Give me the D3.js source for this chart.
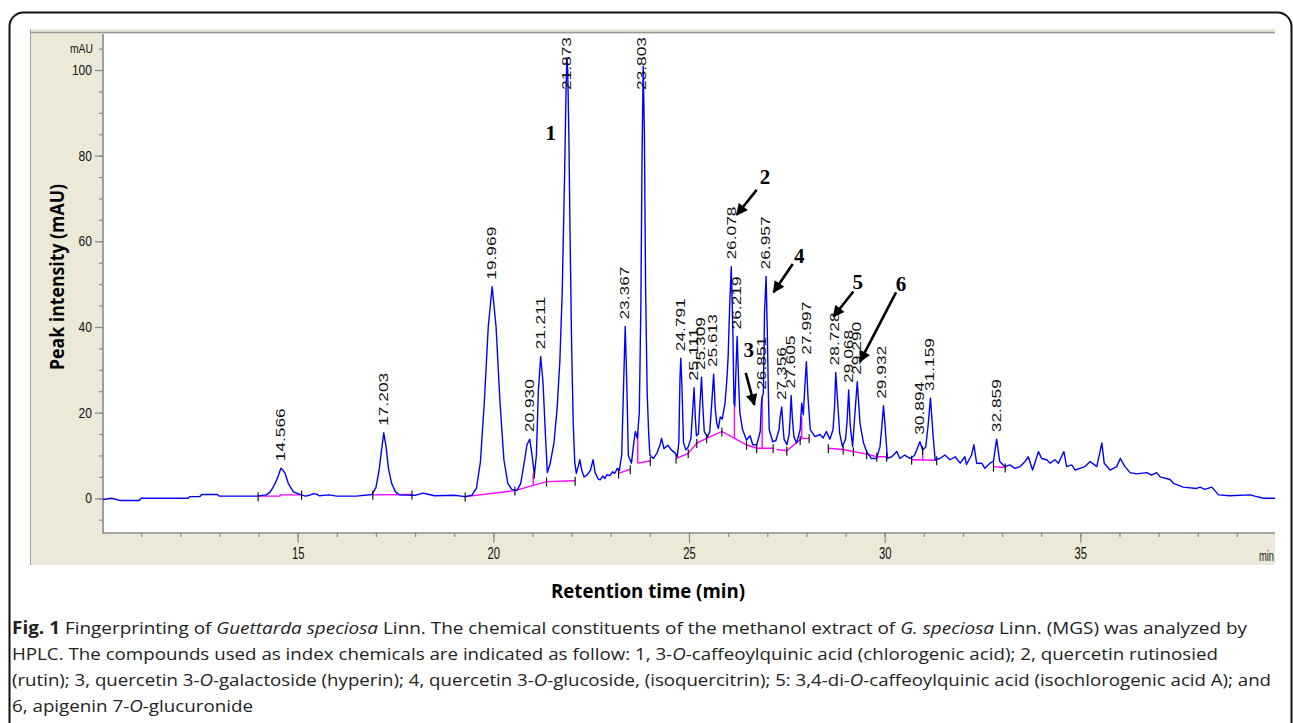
<!DOCTYPE html>
<html><head><meta charset="utf-8">
<script src="https://cdn.jsdelivr.net/npm/d3@7"></script>
<style>body{margin:0;background:#fff;overflow:hidden;} svg{display:block;}</style>
</head><body>
<svg id="c" width="1293" height="723"></svg>
<script>
// ---------- DATA ----------
const traceTime = [10.00,10.25,10.45,10.95,11.00,12.20,12.25,12.50,12.55,12.95,13.00,13.95,14.20,14.30,14.38,14.45,14.51,14.57,14.62,14.68,14.76,14.89,15.06,15.20,15.30,15.40,15.50,15.55,15.80,16.00,16.50,16.90,17.00,17.08,17.14,17.20,17.26,17.32,17.40,17.50,17.60,18.00,18.20,18.30,18.50,19.00,19.28,19.45,19.57,19.67,19.77,19.87,19.97,20.07,20.17,20.27,20.37,20.47,20.60,20.70,20.80,20.86,20.93,20.99,21.05,21.10,21.15,21.21,21.27,21.33,21.38,21.45,21.55,21.63,21.70,21.76,21.82,21.86,21.88,21.90,21.93,21.96,22.00,22.04,22.08,22.12,22.17,22.21,22.26,22.32,22.40,22.48,22.55,22.60,22.68,22.73,22.80,22.85,22.90,22.98,23.05,23.10,23.17,23.22,23.28,23.33,23.37,23.41,23.45,23.53,23.59,23.63,23.68,23.73,23.77,23.80,23.83,23.86,23.89,23.93,23.97,24.00,24.09,24.18,24.26,24.30,24.36,24.46,24.55,24.64,24.70,24.74,24.77,24.79,24.82,24.86,24.92,24.98,25.05,25.09,25.13,25.16,25.19,25.24,25.28,25.32,25.35,25.39,25.47,25.53,25.58,25.63,25.67,25.71,25.75,25.80,25.85,25.92,25.97,26.00,26.04,26.08,26.12,26.15,26.17,26.20,26.23,26.27,26.30,26.37,26.47,26.56,26.63,26.73,26.79,26.82,26.85,26.87,26.90,26.93,26.97,27.00,27.03,27.05,27.14,27.22,27.30,27.33,27.37,27.40,27.43,27.50,27.56,27.58,27.61,27.64,27.68,27.75,27.84,27.88,27.92,27.96,28.00,28.04,28.10,28.22,28.35,28.43,28.51,28.60,28.68,28.72,28.75,28.79,28.85,28.92,29.00,29.04,29.08,29.12,29.18,29.24,29.30,29.37,29.46,29.54,29.66,29.79,29.88,29.93,29.97,30.01,30.07,30.18,30.31,30.39,30.51,30.65,30.76,30.82,30.90,30.97,31.05,31.11,31.17,31.24,31.29,31.41,31.54,31.67,31.80,31.93,32.05,32.09,32.22,32.28,32.35,32.48,32.56,32.69,32.78,32.86,32.94,33.07,33.20,33.33,33.46,33.59,33.67,33.78,33.93,34.01,34.14,34.23,34.35,34.44,34.58,34.65,34.78,34.87,34.99,35.12,35.25,35.42,35.55,35.61,35.76,35.93,36.02,36.14,36.27,36.44,36.70,36.82,36.95,37.04,37.29,37.38,37.63,37.97,38.06,38.18,38.36,38.53,38.82,39.34,39.46,39.68,40.00];
const traceMAU = [-0.3,0.0,-0.5,-0.5,0.0,0.0,0.4,0.4,0.9,0.9,0.5,0.5,0.8,1.5,2.7,4.0,5.4,7.0,6.6,5.8,3.5,1.5,0.9,0.5,0.7,1.1,0.9,0.6,0.8,0.5,0.5,0.9,2.5,6.5,11.0,15.3,12.0,7.0,3.5,1.5,0.8,0.7,1.2,1.0,0.6,0.7,0.4,0.7,2.4,8.5,22.5,40.0,49.4,40.0,22.5,9.0,3.5,2.1,1.8,3.5,9.0,12.5,13.8,10.0,5.5,10.0,25.0,33.1,27.0,15.0,6.0,8.0,13.0,21.0,32.0,48.0,75.0,96.0,102.9,100.0,85.0,62.0,36.0,18.0,8.5,5.8,7.5,9.0,6.5,5.0,5.5,6.5,9.0,6.0,4.5,4.3,5.2,4.6,5.5,5.3,6.2,5.8,7.0,6.5,10.0,27.0,40.1,27.0,10.0,8.2,13.0,15.6,14.0,20.0,45.0,80.0,100.8,85.0,50.0,25.0,15.0,10.1,9.3,10.5,12.5,14.0,11.6,12.4,11.3,10.6,9.8,13.0,28.0,32.7,26.0,13.0,11.3,12.0,14.0,20.0,25.8,19.0,14.6,15.0,22.0,28.3,22.0,15.6,14.3,15.5,22.0,29.0,21.0,17.5,16.3,19.0,18.5,22.2,28.0,33.0,45.0,54.1,39.3,22.2,21.5,30.0,37.8,26.9,19.9,16.0,13.6,14.6,12.5,12.5,14.5,15.6,22.0,23.7,24.5,43.2,51.8,39.3,23.7,16.0,13.2,13.5,16.0,19.0,21.3,17.0,13.8,12.5,15.0,18.0,24.0,19.0,14.4,12.9,16.0,22.2,19.5,26.0,31.9,23.7,16.0,14.4,14.9,14.1,15.6,13.8,16.0,21.4,29.4,23.7,15.2,12.1,13.8,18.0,25.3,17.0,12.1,19.8,27.2,17.5,12.9,10.9,9.3,9.3,12.0,17.0,21.6,17.0,9.3,9.7,10.9,9.3,10.1,9.3,10.0,11.3,13.2,11.3,12.0,17.0,23.4,14.3,9.0,9.3,10.1,9.0,9.7,8.2,9.7,7.9,10.1,12.5,8.2,8.2,7.0,8.2,8.6,13.8,8.6,7.4,7.8,7.0,7.4,8.6,9.7,6.6,10.9,9.3,9.0,8.2,9.0,8.2,10.9,7.4,7.8,6.6,7.0,7.4,8.6,7.4,12.9,8.2,6.6,7.4,9.3,7.4,6.0,5.7,6.0,5.4,6.0,5.0,4.4,3.5,2.6,2.3,2.6,2.1,2.6,0.8,0.6,0.8,0.5,0.0,0.0];

const peakLabels  = ["14.566","17.203","19.969","20.930","21.211","21.873","23.367","23.803","24.791","25.111","25.309","25.613","26.078","26.219","26.851","26.957","27.356","27.605","27.997","28.728","29.068","29.290","29.932","30.894","31.159","32.859"];
const peakHeights = [7.0,15.3,49.4,13.8,33.1,102.9,40.1,100.8,32.7,25.8,28.3,29.0,54.1,37.8,23.7,51.8,21.3,24.0,31.9,29.4,25.3,27.2,21.6,13.2,23.4,13.8];

// integration baselines (time, mAU)
const baselineSegs = [
  [[13.99,0.5],[14.55,0.5],[14.56,0.8],[15.10,0.8]],
  [[16.92,0.8],[17.92,0.9]],
  [[19.28,0.4],[20.55,1.8],[21.36,3.9],[22.09,4.1]],
  [[23.20,5.8],[23.50,6.8]],
  [[23.69,8.2],[24.01,8.7]],
  [[24.67,9.3],[24.98,10.5],[25.20,12.9],[25.45,14.0],[25.84,15.6],[26.47,12.5],[26.73,11.7],[27.15,11.7]],
  [[27.24,11.4],[27.50,11.1],[27.88,14.0],[28.07,14.0]],
  [[28.56,11.7],[28.94,11.4],[29.54,10.3],[29.80,9.7],[30.05,9.7]],
  [[30.69,9.0],[31.33,8.9]],
  [[32.78,7.4],[33.08,7.2]]
];
// vertical drop lines: [time, from mAU, to mAU]
const dropLines = [[21.02,3.0,5.8],[23.69,8.2,15.6],[26.16,14.0,21.4],[26.87,11.7,23.7],[27.88,14.0,19.1],[30.97,9.0,11.3]];
// integration event marks: [time, mAU]
const eventMarks = [[13.99,0.5],[15.10,0.8],[16.92,0.8],[17.92,0.9],[19.28,0.4],[20.55,1.8],[21.05,5.8],[21.36,3.9],[22.09,4.1],[23.20,5.8],[23.50,6.8],[24.01,8.7],[24.67,9.3],[24.98,10.5],[25.20,12.9],[25.45,14.0],[25.84,15.6],[26.47,12.5],[26.73,11.7],[27.15,11.7],[27.50,11.1],[27.84,13.6],[28.07,14.0],[28.56,11.7],[28.94,11.4],[29.20,11.0],[29.54,10.3],[29.80,9.7],[30.05,9.7],[30.69,9.0],[30.97,11.3],[31.33,8.9],[32.78,7.4],[33.08,7.2]];

// compound annotations
const compoundIds   = ["1","2","3","4","5","6"];
const compoundLabelPos = [[21.47,85.4],[26.94,75.1],[26.53,34.6],[27.82,56.6],[29.31,50.6],[30.42,50.2]];
const arrowTail = [null,[26.73,72.0],[26.45,29.3],[27.65,54.7],[29.20,48.3],[30.29,48.1]];
const arrowHead = [null,[26.22,66.2],[26.67,21.8],[27.16,48.1],[28.69,42.4],[29.37,31.9]];

const xMajorTicks = [15,20,25,30,35];
const yMajorTicks = [0,20,40,60,80,100];

const yTitle = "Peak intensity (mAU)";
const xTitle = "Retention time (min)";
const captionLines = [
  [["b","Fig. 1"],["n"," Fingerprinting of "],["i","Guettarda speciosa"],["n"," Linn. The chemical constituents of the methanol extract of "],["i","G. speciosa"],["n"," Linn. (MGS) was analyzed by"]],
  [["n","HPLC. The compounds used as index chemicals are indicated as follow: 1, 3-"],["i","O"],["n","-caffeoylquinic acid (chlorogenic acid); 2, quercetin rutinosied"]],
  [["n","(rutin); 3, quercetin 3-"],["i","O"],["n","-galactoside (hyperin); 4, quercetin 3-"],["i","O"],["n","-glucoside, (isoquercitrin); 5: 3,4-di-"],["i","O"],["n","-caffeoylquinic acid (isochlorogenic acid A); and"]],
  [["n","6, apigenin 7-"],["i","O"],["n","-glucuronide"]]
];
const captionWidths = [1235,1206,1259,null];

// ---------- DRAW ----------
const svg = d3.select("#c");
const x = d3.scaleLinear().domain([10,40]).range([102,1276]);
const y = d3.scaleLinear().domain([0,100]).range([498.3,70]);
const plotL = 103, plotR = 1275, plotT = 34, plotB = 533;

// outer rounded frame
svg.append("rect").attr("x",9.5).attr("y",12.5).attr("width",1282).attr("height",770)
  .attr("rx",14).attr("fill","#fff").attr("stroke","#111").attr("stroke-width",2);

// beige panel
svg.append("rect").attr("x",30).attr("y",29).attr("width",plotR-30).attr("height",565-29).attr("fill","#ECE9D8");
svg.append("line").attr("x1",30.5).attr("x2",30.5).attr("y1",29).attr("y2",565).attr("stroke","#ACA899").attr("stroke-width",1);
svg.append("line").attr("x1",30).attr("x2",plotR).attr("y1",32.5).attr("y2",32.5).attr("stroke","#9a9a9a").attr("stroke-width",1.6);
// white plot area
svg.append("rect").attr("x",plotL).attr("y",plotT).attr("width",plotR-plotL).attr("height",plotB-plotT).attr("fill","#fff");

const defs = svg.append("defs");
defs.append("clipPath").attr("id","clip").append("rect").attr("x",plotL).attr("y",plotT).attr("width",plotR-plotL).attr("height",plotB-plotT);
defs.append("marker").attr("id","ah").attr("viewBox","0 0 10 10").attr("refX",9).attr("refY",5)
  .attr("markerWidth",5).attr("markerHeight",4.5).attr("markerUnits","strokeWidth").attr("orient","auto")
  .append("path").attr("d","M0,0 L10,5 L0,10 Z").attr("fill","#000");

// axes
const axisColor = "#8a8a8a";
const tickFont = "Liberation Sans, Arial, sans-serif";
const yAxisG = svg.append("g").attr("transform",`translate(${plotL},0)`);
yAxisG.call(d3.axisLeft(y).tickValues(d3.range(-5,106,5)).tickSize(4).tickFormat(""));
yAxisG.call(g=>g.select(".domain").remove());
const yMaj = svg.append("g").attr("transform",`translate(${plotL},0)`)
  .call(d3.axisLeft(y).tickValues(yMajorTicks).tickSize(8).tickPadding(3));
yMaj.select(".domain").remove();
svg.selectAll(".tick line").attr("stroke",axisColor).attr("stroke-width",1.2);
yMaj.selectAll("text").attr("font-family",tickFont).attr("font-size",14.5).attr("fill","#111")
  .each(function(d){ d3.select(this).attr("textLength",String(d).length*6.7).attr("lengthAdjust","spacingAndGlyphs"); });
svg.append("text").attr("x",plotL-10).attr("y",y(105)).attr("dy","0.35em").attr("text-anchor","end")
  .attr("font-family",tickFont).attr("font-size",13).attr("fill","#111")
  .attr("textLength",23).attr("lengthAdjust","spacingAndGlyphs").text("mAU");

const xAxisMinor = svg.append("g").attr("transform",`translate(0,${plotB})`)
  .call(d3.axisBottom(x).tickValues(d3.range(11,40,1)).tickSize(4).tickFormat(""));
xAxisMinor.select(".domain").remove();
const xAxisMaj = svg.append("g").attr("transform",`translate(0,${plotB})`)
  .call(d3.axisBottom(x).tickValues(xMajorTicks).tickSize(10).tickPadding(5));
xAxisMaj.select(".domain").remove();
svg.selectAll(".tick line").attr("stroke",axisColor).attr("stroke-width",1.2);
xAxisMaj.selectAll("text").attr("font-family",tickFont).attr("font-size",16).attr("fill","#111")
  .attr("textLength",12.5).attr("lengthAdjust","spacingAndGlyphs");
svg.append("text").attr("x",plotR-1).attr("y",561).attr("text-anchor","end")
  .attr("font-family",tickFont).attr("font-size",15).attr("fill","#111")
  .attr("textLength",15).attr("lengthAdjust","spacingAndGlyphs").text("min");

// axis lines
svg.append("line").attr("x1",plotL).attr("x2",plotL).attr("y1",plotT).attr("y2",plotB+0.5).attr("stroke",axisColor).attr("stroke-width",1.6);
svg.append("line").attr("x1",plotL).attr("x2",plotR).attr("y1",plotB).attr("y2",plotB).attr("stroke",axisColor).attr("stroke-width",1.6);

const plot = svg.append("g").attr("clip-path","url(#clip)");

// baselines
const bl = d3.line().x(d=>x(d[0])).y(d=>y(d[1]));
plot.selectAll(".bl").data(baselineSegs).join("path").attr("d",bl)
  .attr("fill","none").attr("stroke","#ff00ff").attr("stroke-width",1.4);
plot.selectAll(".drop").data(dropLines).join("line")
  .attr("x1",d=>x(d[0])).attr("x2",d=>x(d[0])).attr("y1",d=>y(d[1])).attr("y2",d=>y(d[2]))
  .attr("stroke","#ff00ff").attr("stroke-width",1.4);

// trace
const traceData = traceTime.map((t,i)=>[t,traceMAU[i]]);
plot.append("path").datum(traceData).attr("d",d3.line().x(d=>x(d[0])).y(d=>y(d[1])))
  .attr("fill","none").attr("stroke","#0000ff").attr("stroke-width",1.4).attr("stroke-linejoin","round");

// event marks
plot.selectAll(".ev").data(eventMarks).join("line")
  .attr("x1",d=>x(d[0])).attr("x2",d=>x(d[0])).attr("y1",d=>y(d[1])-4).attr("y2",d=>y(d[1])+5)
  .attr("stroke","#000").attr("stroke-width",1.1);

// peak labels
const labLen = 53;
svg.selectAll(".pl").data(peakLabels).join("text")
  .each(function(d,i){
    const px = x(+d);
    let bottom = y(peakHeights[i]) - 7;
    if (bottom - labLen < 37) bottom = 37 + labLen;
    d3.select(this).attr("transform",`translate(${px},${bottom}) rotate(-90)`);
  })
  .attr("dy","0.36em")
  .attr("font-family",tickFont).attr("font-size",12).attr("fill","#111")
  .attr("textLength",labLen).attr("lengthAdjust","spacingAndGlyphs")
  .text(d=>d);

// arrows
svg.selectAll(".arr").data(compoundIds.map((c,i)=>[arrowTail[i],arrowHead[i]]).filter(d=>d[0]))
  .join("line")
  .attr("x1",d=>x(d[0][0])).attr("y1",d=>y(d[0][1])).attr("x2",d=>x(d[1][0])).attr("y2",d=>y(d[1][1]))
  .attr("stroke","#000").attr("stroke-width",2.6).attr("marker-end","url(#ah)");

// compound numbers
svg.selectAll(".cid").data(compoundIds).join("text")
  .attr("x",(d,i)=>x(compoundLabelPos[i][0])).attr("y",(d,i)=>y(compoundLabelPos[i][1]))
  .attr("dy","0.35em").attr("text-anchor","middle")
  .attr("font-family","Liberation Serif, Times New Roman, serif").attr("font-weight","bold").attr("font-size",21)
  .attr("fill","#000").text(d=>d);

// titles
svg.append("text").attr("transform","translate(57,277) rotate(-90)").attr("text-anchor","middle").attr("dy","0.35em")
  .attr("font-family","Open Sans, Noto Sans, sans-serif").attr("font-weight","bold").attr("font-size",19).attr("fill","#000")
  .attr("textLength",186).attr("lengthAdjust","spacingAndGlyphs").text(yTitle);
svg.append("text").attr("x",648).attr("y",591).attr("text-anchor","middle").attr("dy","0.35em")
  .attr("font-family","Open Sans, Noto Sans, sans-serif").attr("font-weight","bold").attr("font-size",19).attr("fill","#000")
  .attr("textLength",194).attr("lengthAdjust","spacingAndGlyphs").text(xTitle);

// caption
const capBase = [634,660,686,712];
const ratios = [];
captionLines.forEach((line,li)=>{
  const t = svg.append("text").attr("x",12).attr("y",capBase[li])
    .attr("font-family","Open Sans, Noto Sans, sans-serif").attr("font-size",17).attr("fill","#222");
  line.forEach(([s,txt])=>{
    const ts = t.append("tspan").text(txt);
    if (s==="b") ts.attr("font-weight","bold");
    if (s==="i") ts.attr("font-style","italic");
  });
  const natural = t.node().getComputedTextLength();
  let target = captionWidths[li];
  if (target === null) {
    const r = ratios.length ? d3.mean(ratios) : 1;
    target = natural * r;
  } else {
    ratios.push(target / natural);
  }
  t.attr("textLength",target).attr("lengthAdjust","spacingAndGlyphs");
});
</script>
</body></html>
